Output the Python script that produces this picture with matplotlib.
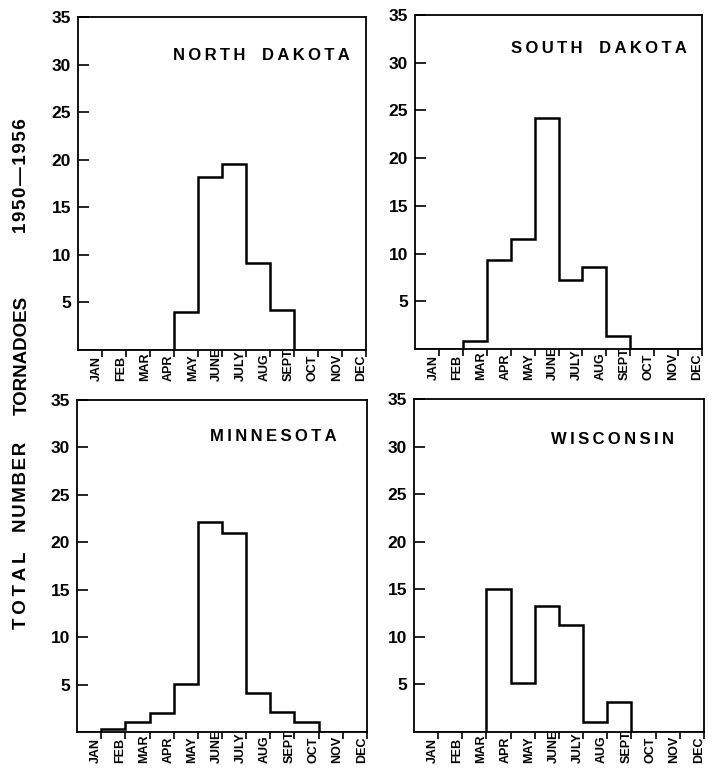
"""Monthly tornado totals 1950-1956 for four states, drawn as step outlines."""

import numpy as np
import matplotlib

matplotlib.use("Agg")
import matplotlib.pyplot as plt

months = ["JAN", "FEB", "MAR", "APR", "MAY", "JUNE",
          "JULY", "AUG", "SEPT", "OCT", "NOV", "DEC"]

north_dakota = [0, 0, 0, 0, 4.0, 18.2, 19.6, 9.1, 4.2, 0, 0, 0]
south_dakota = [0, 0, 0.8, 9.3, 11.5, 24.2, 7.2, 8.6, 1.4, 0, 0, 0]
minnesota = [0, 0.35, 1.1, 2.0, 5.1, 22.1, 21.0, 4.1, 2.1, 1.1, 0, 0]
wisconsin = [0, 0, 0, 15.0, 5.2, 13.2, 11.2, 1.1, 3.2, 0, 0, 0]

state_names = ["NORTH DAKOTA", "SOUTH DAKOTA", "MINNESOTA", "WISCONSIN"]
y_ticks = [5, 10, 15, 20, 25, 30, 35]

FONT = ["Liberation Sans", "DejaVu Sans"]
plt.rcParams["font.family"] = FONT


def spaced(text, gap="\u2009"):
    words = text.split(" ")
    return "\u2003".join(gap.join(word) for word in words)


W, H = 717, 776
fig = plt.figure(figsize=(W / 100, H / 100), dpi=100)


def box(left, top, right, bottom):
    return [left / W, 1 - bottom / H, (right - left) / W, (bottom - top) / H]


panels = [
    (box(78, 17, 366, 350), north_dakota, (0.635, 0.883)),
    (box(415, 15, 702, 349), south_dakota, (0.641, 0.901)),
    (box(77, 400, 367, 732), minnesota, (0.676, 0.889)),
    (box(414, 399, 704, 732), wisconsin, (0.683, 0.877)),
]

edges = np.arange(len(months) + 1)

for (rect, values, title_xy), name in zip(panels, state_names):
    ax = fig.add_axes(rect)
    ax.stairs(values, edges, baseline=0, color="black", linewidth=1.8)

    ax.set_xlim(0, 12)
    ax.set_ylim(0, 35)
    for spine in ax.spines.values():
        spine.set_linewidth(1.3)

    ax.set_yticks(y_ticks)
    ax.set_yticklabels([str(t) for t in y_ticks], fontsize=12.5, fontweight="bold")
    ax.tick_params(axis="y", direction="in", length=8, width=1.2, pad=5)

    ax.set_xticks(edges[1:])
    ax.set_xticklabels([])
    ax.tick_params(axis="x", direction="out", length=5, width=1.2)

    for i, month in enumerate(months):
        ax.annotate(month, xy=(i + 0.78, 0), xycoords=("data", "axes fraction"),
                    xytext=(0, -22), textcoords="offset points",
                    rotation=90, ha="center", va="bottom",
                    fontsize=9, fontweight="bold")

    ax.text(title_xy[0], title_xy[1], spaced(name), transform=ax.transAxes,
            ha="center", va="center", fontsize=12, fontweight="bold")

# y label, one word at a time so the wide gaps match the lettering
label_x = 22 / W
for word, y_px, gap in [("TOTAL", 590, "\u2009"), ("NUMBER", 487, "\u200a"),
                        ("TORNADOES", 355, ""), ("1950\u20141956", 176, "\u200a")]:
    fig.text(label_x, 1 - y_px / H, spaced(word, gap), rotation=90,
             ha="center", va="center", fontsize=13.5, fontweight="bold")

fig.savefig("out.png", dpi=100)
